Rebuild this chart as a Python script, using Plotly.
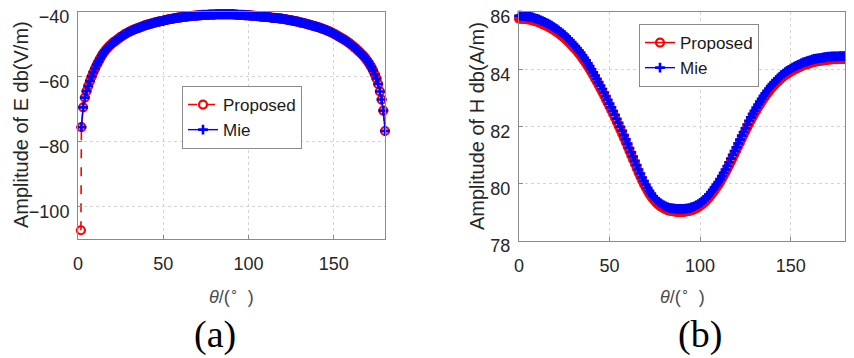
import plotly.graph_objects as go

# ---------------- data ----------------
# Panel (a): E field amplitude (dB V/m) vs theta (deg)
theta_e = [1.7] + list(range(2, 181))
e_mie = [None,
    -75.5, -69.4, -66.4, -64.4, -62.8, -61.3, -59.9, -58.6, -57.4,   # 2-10
    -56.3, -55.3, -54.3, -53.4, -52.6, -51.9, -51.3, -50.7, -50.2, -49.7,  # 11-20
    -49.3, -48.9, -48.5, -48.1, -47.7, -47.4, -47.0, -46.7, -46.4, -46.1,  # 21-30
    -45.9, -45.6, -45.4, -45.2, -45.0, -44.8, -44.6, -44.4, -44.2, -44.0,  # 31-40
    -43.9, -43.7, -43.6, -43.4, -43.3, -43.1, -43.0, -42.9, -42.8, -42.7,  # 41-50
    -42.5, -42.4, -42.3, -42.2, -42.1, -42.0, -41.9, -41.8, -41.7, -41.7,  # 51-60
    -41.6, -41.5, -41.4, -41.4, -41.3, -41.3, -41.2, -41.2, -41.1, -41.1,  # 61-70
    -41.0, -41.0, -40.9, -40.9, -40.9, -40.9, -40.8, -40.8, -40.8, -40.8,  # 71-80
    -40.7, -40.7, -40.7, -40.7, -40.7, -40.7, -40.7, -40.7, -40.7, -40.7,  # 81-90
    -40.7, -40.8, -40.8, -40.9, -40.9, -40.9, -40.9, -41.0, -41.0, -41.0,  # 91-100
    -41.1, -41.1, -41.2, -41.2, -41.3, -41.3, -41.4, -41.4, -41.5, -41.5,  # 101-110
    -41.6, -41.6, -41.7, -41.8, -41.8, -41.9, -41.9, -42.0, -42.0, -42.1,  # 111-120
    -42.2, -42.3, -42.4, -42.5, -42.6, -42.7, -42.8, -42.9, -43.0, -43.2,  # 121-130
    -43.3, -43.4, -43.5, -43.7, -43.8, -44.0, -44.1, -44.3, -44.4, -44.6,  # 131-140
    -44.7, -44.9, -45.1, -45.3, -45.5, -45.7, -45.9, -46.2, -46.4, -46.7,  # 141-150
    -47.0, -47.3, -47.6, -47.9, -48.2, -48.5, -48.8, -49.2, -49.6, -50.0,  # 151-160
    -50.4, -50.9, -51.3, -51.8, -52.3, -52.8, -53.3, -53.9, -54.6, -55.3,  # 161-170
    -56.1, -57.0, -58.0, -59.2, -60.5, -62.2, -64.5, -67.0, -70.4, -76.7,  # 171-180
]
e_proposed = [-107.3,
    -75.5, -69.4, -66.4, -64.4, -62.8, -61.3, -59.9, -58.6, -57.4,
    -56.3, -55.3, -54.3, -53.4, -52.6, -51.9, -51.3, -50.7, -50.2, -49.7,
    -49.3, -48.9, -48.5, -48.1, -47.7, -47.4, -47.0, -46.7, -46.4, -46.1,
    -45.9, -45.6, -45.4, -45.2, -45.0, -44.8, -44.6, -44.4, -44.2, -44.0,
    -43.9, -43.7, -43.6, -43.4, -43.3, -43.1, -43.0, -42.9, -42.8, -42.7,
    -42.5, -42.4, -42.3, -42.2, -42.1, -42.0, -41.9, -41.8, -41.7, -41.7,
    -41.6, -41.5, -41.4, -41.4, -41.3, -41.3, -41.2, -41.2, -41.1, -41.1,
    -41.0, -41.0, -40.9, -40.9, -40.9, -40.9, -40.8, -40.8, -40.8, -40.8,
    -40.7, -40.7, -40.7, -40.7, -40.7, -40.7, -40.7, -40.7, -40.7, -40.7,
    -40.7, -40.8, -40.8, -40.9, -40.9, -40.9, -40.9, -41.0, -41.0, -41.0,
    -41.1, -41.1, -41.2, -41.2, -41.3, -41.3, -41.4, -41.4, -41.5, -41.5,
    -41.6, -41.6, -41.7, -41.8, -41.8, -41.9, -41.9, -42.0, -42.0, -42.1,
    -42.2, -42.3, -42.4, -42.5, -42.6, -42.7, -42.8, -42.9, -43.0, -43.2,
    -43.3, -43.4, -43.5, -43.7, -43.8, -44.0, -44.1, -44.3, -44.4, -44.6,
    -44.7, -44.9, -45.1, -45.3, -45.5, -45.7, -45.9, -46.2, -46.4, -46.7,
    -47.0, -47.3, -47.6, -47.9, -48.2, -48.5, -48.8, -49.2, -49.6, -50.0,
    -50.4, -50.9, -51.3, -51.8, -52.3, -52.8, -53.3, -53.9, -54.6, -55.3,
    -56.1, -57.0, -58.0, -59.2, -60.5, -62.2, -64.5, -67.0, -70.4, -76.7,
]

# Panel (b): H field amplitude (dB A/m) vs theta (deg)
theta_h = list(range(0, 181))
h_mie = [
    85.87, 85.87, 85.86, 85.86, 85.85, 85.84, 85.83, 85.82, 85.80, 85.78,  # 0-9
    85.76, 85.74, 85.71, 85.68, 85.65, 85.62, 85.59, 85.56, 85.52, 85.48,  # 10-19
    85.44, 85.40, 85.35, 85.30, 85.25, 85.20, 85.14, 85.08, 85.02, 84.95,  # 20-29
    84.88, 84.81, 84.74, 84.66, 84.58, 84.49, 84.40, 84.31, 84.21, 84.11,  # 30-39
    84.00, 83.89, 83.78, 83.67, 83.55, 83.43, 83.31, 83.19, 83.06, 82.93,  # 40-49
    82.80, 82.67, 82.54, 82.41, 82.27, 82.13, 81.99, 81.85, 81.70, 81.55,  # 50-59
    81.40, 81.25, 81.10, 80.95, 80.80, 80.65, 80.50, 80.36, 80.22, 80.09,  # 60-69
    79.97, 79.86, 79.75, 79.66, 79.57, 79.50, 79.43, 79.37, 79.32, 79.28,  # 70-79
    79.24, 79.21, 79.18, 79.16, 79.15, 79.14, 79.13, 79.12, 79.12, 79.12,  # 80-89
    79.12, 79.12, 79.13, 79.14, 79.15, 79.17, 79.19, 79.22, 79.25, 79.29,  # 90-99
    79.33, 79.38, 79.43, 79.49, 79.56, 79.63, 79.71, 79.79, 79.88, 79.97,  # 100-109
    80.06, 80.16, 80.27, 80.38, 80.50, 80.62, 80.75, 80.88, 81.01, 81.14,  # 110-119
    81.27, 81.41, 81.54, 81.68, 81.81, 81.94, 82.07, 82.20, 82.32, 82.44,  # 120-129
    82.55, 82.66, 82.77, 82.87, 82.97, 83.07, 83.16, 83.25, 83.33, 83.41,  # 130-139
    83.48, 83.55, 83.62, 83.68, 83.74, 83.80, 83.85, 83.90, 83.94, 83.98,  # 140-149
    84.02, 84.06, 84.09, 84.12, 84.15, 84.18, 84.21, 84.24, 84.26, 84.28,  # 150-159
    84.30, 84.32, 84.34, 84.36, 84.37, 84.38, 84.39, 84.40, 84.41, 84.42,  # 160-169
    84.43, 84.44, 84.44, 84.45, 84.45, 84.45, 84.45, 84.46, 84.46, 84.46,  # 170-179
    84.46,                                                                 # 180
]
h_proposed = [
    85.77, 85.77, 85.76, 85.76, 85.75, 85.74, 85.73, 85.72, 85.70, 85.68,
    85.66, 85.64, 85.61, 85.58, 85.55, 85.52, 85.49, 85.46, 85.42, 85.38,
    85.34, 85.30, 85.25, 85.20, 85.15, 85.10, 85.04, 84.98, 84.92, 84.85,
    84.78, 84.71, 84.64, 84.56, 84.48, 84.39, 84.30, 84.21, 84.11, 84.01,
    83.90, 83.79, 83.68, 83.57, 83.45, 83.33, 83.21, 83.09, 82.96, 82.83,
    82.70, 82.57, 82.44, 82.31, 82.17, 82.03, 81.89, 81.75, 81.60, 81.45,
    81.30, 81.15, 81.00, 80.85, 80.70, 80.55, 80.40, 80.26, 80.12, 79.99,
    79.87, 79.76, 79.65, 79.56, 79.47, 79.40, 79.33, 79.27, 79.22, 79.18,
    79.14, 79.11, 79.08, 79.06, 79.05, 79.04, 79.03, 79.02, 79.02, 79.02,
    79.02, 79.02, 79.03, 79.04, 79.05, 79.07, 79.09, 79.12, 79.15, 79.19,
    79.23, 79.28, 79.33, 79.39, 79.46, 79.53, 79.61, 79.69, 79.78, 79.87,
    79.96, 80.06, 80.17, 80.28, 80.40, 80.52, 80.65, 80.78, 80.91, 81.04,
    81.17, 81.31, 81.44, 81.58, 81.71, 81.84, 81.97, 82.10, 82.22, 82.34,
    82.45, 82.56, 82.67, 82.77, 82.87, 82.97, 83.06, 83.15, 83.23, 83.31,
    83.38, 83.45, 83.52, 83.58, 83.64, 83.70, 83.75, 83.80, 83.84, 83.88,
    83.92, 83.96, 83.99, 84.02, 84.05, 84.08, 84.11, 84.14, 84.16, 84.18,
    84.20, 84.22, 84.24, 84.26, 84.27, 84.28, 84.29, 84.30, 84.31, 84.32,
    84.33, 84.34, 84.34, 84.35, 84.35, 84.35, 84.35, 84.36, 84.36, 84.36,
    84.36,
]

x_ticks = [0, 50, 100, 150]
e_ticks = [-100, -80, -60, -40]
h_ticks = [78, 80, 82, 84, 86]
series_names = ["Proposed", "Mie"]

# ---------------- figure ----------------
# the page body has an 8px margin, so the figure is 8px smaller each way
# and every reference pixel position is shifted by OFF
OFF = 8
W, H = 854 - OFF, 358 - OFF
RED = "#ff0000"
BLUE = "#0000ff"

fig = go.Figure()

def add_pair(x, yp, ym, xa, ya, lg, dash):
    fig.add_trace(go.Scatter(
        x=x, y=yp, name=series_names[0], mode="lines+markers",
        line=dict(color=RED, width=1.6, dash=dash),
        marker=dict(symbol="circle-open", size=8, color=RED, line=dict(width=2.2, color=RED)),
        xaxis=xa, yaxis=ya, legend=lg, cliponaxis=False,
    ))
    fig.add_trace(go.Scatter(
        x=x, y=ym, name=series_names[1], mode="lines+markers",
        line=dict(color=BLUE, width=1.4),
        marker=dict(symbol="cross-thin", size=7, color=BLUE, line=dict(width=2.6, color=BLUE)),
        xaxis=xa, yaxis=ya, legend=lg, cliponaxis=False,
    ))

add_pair(theta_e, e_proposed, e_mie, "x", "y", "legend", "dash")
add_pair(theta_h, h_proposed, h_mie, "x2", "y2", "legend2", "solid")

def px_x(p):
    return (p - OFF) / W

def px_y(p):
    return 1 - (p - OFF) / H

FONT = "Arial, Liberation Sans, sans-serif"
axis_common = dict(
    showgrid=True, gridcolor="#d4d4d4", griddash="dot", gridwidth=1,
    showline=True, mirror=True, linecolor="#8a8a8a", linewidth=1,
    ticks="inside", ticklen=4, tickcolor="#8a8a8a",
    zeroline=False, automargin=False, ticklabeloverflow="allow",
    tickfont=dict(family=FONT, size=18, color="#262626"),
)

legend_common = dict(
    xanchor="left", yanchor="top",
    bgcolor="white", bordercolor="#8a8a8a", borderwidth=1,
    font=dict(family=FONT, size=17, color="#1a1a1a"),
    itemwidth=30, tracegroupgap=0,
)

fig.update_layout(
    width=W, height=H,
    margin=dict(l=0, r=0, t=0, b=0, pad=0, autoexpand=False),
    paper_bgcolor="white", plot_bgcolor="white",
    showlegend=True,
    xaxis=dict(domain=[px_x(78), px_x(385)], range=[0, 180], tickvals=x_ticks,
               anchor="y", ticklabelstandoff=8, **axis_common),
    yaxis=dict(domain=[px_y(239), px_y(12)], range=[-110, -40], tickvals=e_ticks,
               anchor="x", ticklabelstandoff=4, ticklabelshift=5, **axis_common),
    xaxis2=dict(domain=[px_x(519), px_x(845)], range=[0, 180], tickvals=x_ticks,
                anchor="y2", ticklabelstandoff=8, **axis_common),
    yaxis2=dict(domain=[px_y(241), px_y(12)], range=[78, 86], tickvals=h_ticks,
                anchor="x2", ticklabelstandoff=4, ticklabelshift=5, **axis_common),
    legend=dict(x=px_x(182), y=px_y(86), **legend_common),
    legend2=dict(x=px_x(639), y=px_y(24), **legend_common),
)

ann_font = dict(family=FONT, size=20, color="#262626")
xt_font = dict(family=FONT, size=18, color="#4a4a4a")
lab_font = dict(family="Times New Roman, Liberation Serif, serif", size=38, color="black")

annotations = [
    dict(text="Amplitude of E db(V/m)", x=px_x(OFF), y=px_y(125), textangle=-90,
         font=ann_font, xanchor="left"),
    dict(text="Amplitude of H db(A/m)", x=px_x(477), y=px_y(126), textangle=-90,
         font=ann_font, xanchor="center"),
    dict(text="<i>θ</i>/(<sup>∘</sup>  )", x=px_x(231), y=px_y(295), font=xt_font,
         xanchor="center"),
    dict(text="<i>θ</i>/(<sup>∘</sup>  )", x=px_x(682), y=px_y(295), font=xt_font,
         xanchor="center"),
    dict(text="(a)", x=px_x(215), y=px_y(334), font=lab_font, xanchor="center"),
    dict(text="(b)", x=px_x(700), y=px_y(334), font=lab_font, xanchor="center"),
]
for a in annotations:
    a.update(xref="paper", yref="paper", showarrow=False, yanchor="middle")
fig.update_layout(annotations=annotations)

fig.write_html("out.html")
